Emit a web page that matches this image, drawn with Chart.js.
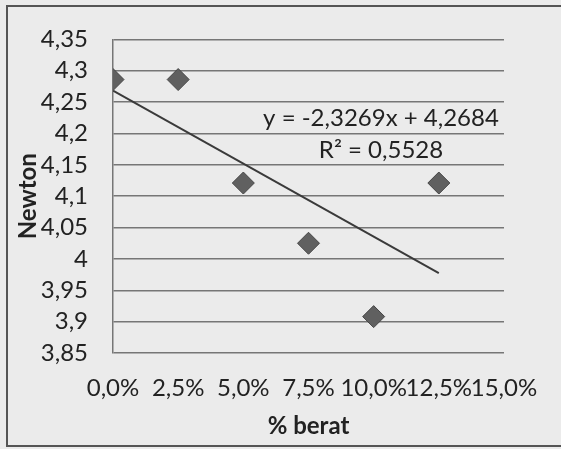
<!DOCTYPE html>
<html>
<head>
<meta charset="utf-8">
<script src="https://cdn.jsdelivr.net/npm/chart.js@4.4.1/dist/chart.umd.min.js"></script>
<style>
  html, body { margin: 0; padding: 0; background: #ebebeb; }
  #wrap { position: relative; width: 561px; height: 449px; overflow: hidden; }
  #marco { position: absolute; left: 6px; top: 5px; width: 600px; height: 438px; border: 2px solid #555; }
  canvas { position: absolute; left: 0; top: 0; }
</style>
</head>
<body>
<div id="wrap">
  <div id="marco"></div>
  <canvas id="grafico" width="561" height="449"></canvas>
</div>
<script>
// datos
const porcentajes = [0, 0.025, 0.05, 0.075, 0.10, 0.125];
const newton = [4.286, 4.286, 4.121, 4.025, 3.908, 4.121];

// linea de tendencia (extremos segun y = -2,3269x + 4,2684)
const tendenciaX = [0, 0.125];
const tendenciaY = [4.2684, 3.9775];

const ticksX = [0, 0.025, 0.05, 0.075, 0.10, 0.125, 0.15];
const etiquetasX = ['0,0%', '2,5%', '5,0%', '7,5%', '10,0%', '12,5%', '15,0%'];
const ticksY = [3.85, 3.9, 3.95, 4, 4.05, 4.1, 4.15, 4.2, 4.25, 4.3, 4.35];
const etiquetasY = ['3,85', '3,9', '3,95', '4', '4,05', '4,1', '4,15', '4,2', '4,25', '4,3', '4,35'];

const ecuacion = 'y = -2,3269x + 4,2684';
const r2 = 'R² = 0,5528';

const fuente = 'Lato, "Open Sans", sans-serif';
const gris = '#767676';
const tinta = '#222';

const textoEcuacion = {
    id: 'textoEcuacion',
    afterDatasetsDraw(chart) {
        const ctx = chart.ctx;
        const area = chart.chartArea;
        ctx.save();
        ctx.fillStyle = tinta;
        ctx.font = '24px ' + fuente;
        ctx.textAlign = 'center';
        ctx.textBaseline = 'middle';
        ctx.fillText(ecuacion, area.left + 268, area.top + 79);
        ctx.fillText(r2, area.left + 268, area.top + 111);
        ctx.restore();
    }
};

new Chart(document.getElementById('grafico'), {
    type: 'scatter',
    data: {
        datasets: [{
            label: 'Newton',
            data: porcentajes.map((x, i) => ({ x: x, y: newton[i] })),
            pointStyle: 'rectRot',
            pointRadius: 11,
            pointHoverRadius: 11,
            backgroundColor: '#606060',
            borderColor: '#454545',
            borderWidth: 1
        }, {
            type: 'line',
            label: 'Tendencia',
            data: tendenciaX.map((x, i) => ({ x: x, y: tendenciaY[i] })),
            borderColor: '#3a3a3a',
            borderWidth: 2,
            pointRadius: 0,
            fill: false
        }]
    },
    options: {
        responsive: false,
        animation: false,
        layout: { padding: { top: 39, right: 57, left: 0, bottom: 0 } },
        plugins: {
            legend: { display: false },
            tooltip: { enabled: false }
        },
        scales: {
            x: {
                type: 'linear',
                min: 0,
                max: 0.15,
                afterBuildTicks: escala => { escala.ticks = ticksX.map(v => ({ value: v })); },
                afterFit: escala => { escala.height = 96; },
                grid: { display: false },
                border: { display: false },
                ticks: {
                    autoSkip: false,
                    maxRotation: 0,
                    padding: 13,
                    color: tinta,
                    font: { family: fuente, size: 24 },
                    callback: (v, i) => etiquetasX[i]
                },
                title: {
                    display: true,
                    text: '% berat',
                    color: tinta,
                    font: { family: fuente, size: 24, weight: 'bold' },
                    padding: { top: 0, bottom: 8 }
                }
            },
            y: {
                min: 3.85,
                max: 4.35,
                afterBuildTicks: escala => { escala.ticks = ticksY.map(v => ({ value: v })); },
                afterFit: escala => { escala.width = 113; },
                grid: { color: gris, lineWidth: 1.5, drawTicks: false },
                border: { display: true, color: gris, width: 1.5 },
                ticks: {
                    autoSkip: false,
                    padding: 25,
                    color: tinta,
                    font: { family: fuente, size: 24 },
                    callback: (v, i) => etiquetasY[i]
                },
                title: {
                    display: true,
                    text: 'Newton',
                    color: tinta,
                    font: { family: fuente, size: 24, weight: 'bold' },
                    padding: { top: 14, bottom: 0 }
                }
            }
        }
    },
    plugins: [textoEcuacion]
});
</script>
</body>
</html>
